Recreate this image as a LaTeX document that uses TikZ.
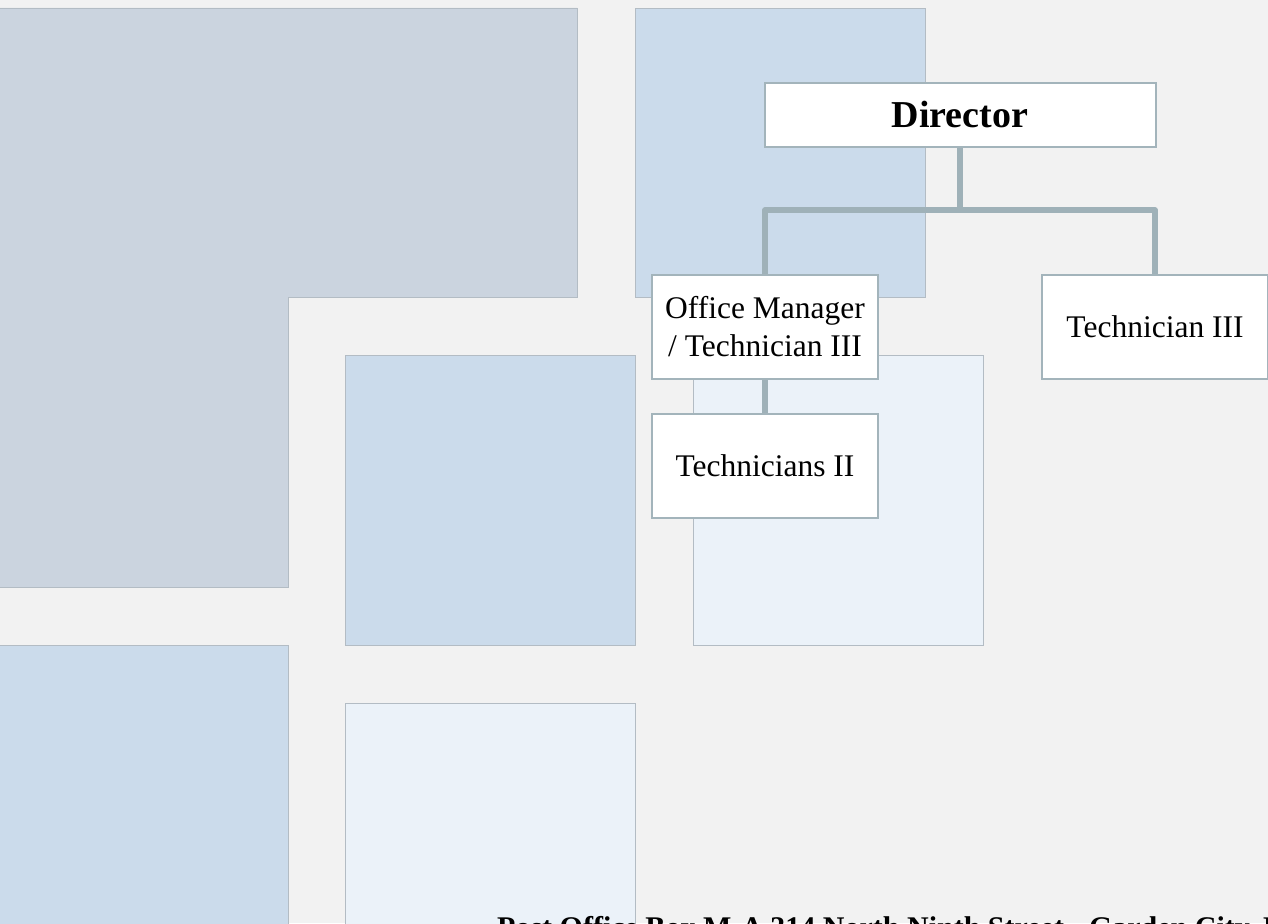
\documentclass[tikz,border=0pt]{standalone}
\usepackage{fontspec}
\setmainfont{Liberation Serif}
\definecolor{bgc}{HTML}{F2F2F2}
\definecolor{grayt}{HTML}{CBD4DF}
\definecolor{bluet}{HTML}{CBDBEB}
\definecolor{lightt}{HTML}{EBF2F9}
\definecolor{tileline}{HTML}{B3BCC4}
\definecolor{boxline}{HTML}{A3B4BB}
\definecolor{connc}{HTML}{9FB1B8}
\begin{document}
\begin{tikzpicture}[x=1pt,y=-1pt,
  box/.style={draw=boxline, line width=2pt, fill=white, minimum width=226pt, minimum height=104pt, inner sep=0pt, align=center, font=\fontsize{31.5}{38}\selectfont},
  conn/.style={draw=connc, line width=5.5pt, line join=round},
  tile/.style={draw=tileline, line width=0.8pt}]
\useasboundingbox (0,0) rectangle (1268,923);
\clip (0,0) rectangle (1268,923);
\fill[bgc] (0,0) rectangle (1268,923);
% background tiles
\filldraw[tile, fill=grayt] (-2,8) -- (577,8) -- (577,297) -- (288,297) -- (288,587) -- (-2,587) -- cycle;
\filldraw[tile, fill=bluet] (635,8) rectangle (925,297);
\filldraw[tile, fill=bluet] (345,355) rectangle (635,645);
\filldraw[tile, fill=lightt] (693,355) rectangle (983,645);
\filldraw[tile, fill=bluet] (-2,645) rectangle (288,930);
\filldraw[tile, fill=lightt] (345,703) rectangle (635,930);
% org chart
\node[box, minimum width=391pt, minimum height=64pt, font=\fontsize{38}{44}\bfseries\selectfont] (dir) at (960,115) {Director};
\node[box] (om) at (765,327) {Office Manager\\/ Technician III};
\node[box] (t3) at (1155,327) {Technician III};
\node[box] (t2) at (765,466) {Technicians II};
\coordinate (jn) at (960,210);
\draw[conn] (dir.south) -- (jn);
\draw[conn] (om.north) |- (jn) -| (t3.north);
\draw[conn] (om.south) -- (t2.north);
% address line (cut by the page edge, as in the reference)
\node[anchor=base west, inner sep=0pt, font=\fontsize{30}{36}\bfseries\selectfont] (addr) at (497,937) {Post Office Box M-A 314 North Ninth Street · Garden City, K};
\end{tikzpicture}
\end{document}
